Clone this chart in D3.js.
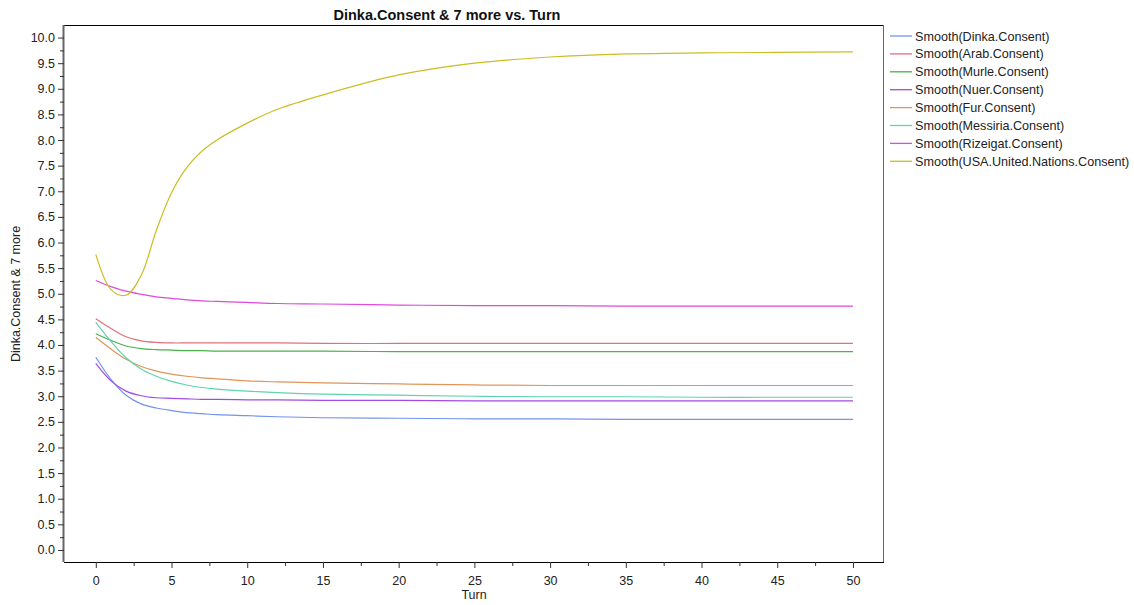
<!DOCTYPE html>
<html>
<head>
<meta charset="utf-8">
<script src="https://cdn.jsdelivr.net/npm/d3@7"></script>
<style>
  body { margin: 0; background: #fff; }
  svg { font-family: "Liberation Sans", Arial, sans-serif; }
</style>
</head>
<body>
<svg id="chart" width="1134" height="605"></svg>
<script>
// sampled turns
const turns = [0, 1, 2, 3, 4, 5, 6, 7, 8, 10, 12, 15, 20, 25, 30, 35, 40, 45, 50];

// values at each turn
const dinka    = [3.76, 3.33, 3.02, 2.85, 2.77, 2.72, 2.68, 2.66, 2.64, 2.62, 2.60, 2.58, 2.57, 2.56, 2.56, 2.55, 2.55, 2.55, 2.55];
const arab     = [4.51, 4.32, 4.16, 4.08, 4.05, 4.04, 4.04, 4.04, 4.04, 4.04, 4.04, 4.03, 4.03, 4.03, 4.03, 4.03, 4.03, 4.03, 4.03];
const murle    = [4.22, 4.09, 3.98, 3.93, 3.91, 3.90, 3.89, 3.89, 3.88, 3.88, 3.88, 3.88, 3.87, 3.87, 3.87, 3.87, 3.87, 3.87, 3.87];
const nuer     = [3.64, 3.30, 3.10, 3.01, 2.97, 2.96, 2.95, 2.94, 2.94, 2.93, 2.93, 2.92, 2.92, 2.91, 2.91, 2.91, 2.91, 2.91, 2.91];
const fur      = [4.15, 3.92, 3.72, 3.58, 3.49, 3.43, 3.39, 3.36, 3.34, 3.30, 3.28, 3.26, 3.24, 3.22, 3.21, 3.21, 3.21, 3.21, 3.21];
const messiria = [4.44, 4.07, 3.75, 3.53, 3.39, 3.29, 3.22, 3.17, 3.14, 3.10, 3.07, 3.04, 3.02, 3.00, 2.99, 2.99, 2.98, 2.98, 2.98];
const rizeigat = [5.26, 5.14, 5.05, 4.99, 4.94, 4.91, 4.88, 4.86, 4.85, 4.83, 4.81, 4.80, 4.78, 4.77, 4.77, 4.76, 4.76, 4.76, 4.76];
const usaUN    = [5.77, 5.08, 4.97, 5.36, 6.24, 6.97, 7.46, 7.78, 8.00, 8.33, 8.60, 8.88, 9.27, 9.50, 9.62, 9.68, 9.70, 9.71, 9.72];

const seriesNames = [
  "Smooth(Dinka.Consent)", "Smooth(Arab.Consent)", "Smooth(Murle.Consent)", "Smooth(Nuer.Consent)",
  "Smooth(Fur.Consent)", "Smooth(Messiria.Consent)", "Smooth(Rizeigat.Consent)", "Smooth(USA.United.Nations.Consent)"
];
const seriesValues = [dinka, arab, murle, nuer, fur, messiria, rizeigat, usaUN];
const colors = ["#7394ee", "#e2707c", "#4cb04c", "#a24be0", "#e0955a", "#5fd4ae", "#de4ade", "#cbbd22"];

const xTicks = d3.range(0, 51, 5);
const yTicks = d3.range(0, 10.01, 0.5);

const svg = d3.select("#chart");
const plotL = 64, plotR = 884, plotT = 25, plotB = 562;

const x = d3.scaleLinear().domain([-2.1, 52.05]).range([plotL, plotR]);
const y = d3.scaleLinear().domain([-0.235, 10.245]).range([plotB, plotT]);

// frame
svg.append("line").attr("x1", plotL).attr("x2", plotR).attr("y1", plotT + 0.5).attr("y2", plotT + 0.5).attr("stroke", "#000");
svg.append("line").attr("x1", plotR - 0.5).attr("x2", plotR - 0.5).attr("y1", plotT).attr("y2", plotB).attr("stroke", "#666");

// x axis
const xAxis = svg.append("g")
  .attr("transform", `translate(0,${plotB})`)
  .call(d3.axisBottom(x).tickValues(xTicks).tickSize(6).tickFormat(d3.format("d")));
svg.append("g")
  .attr("transform", `translate(0,${plotB})`)
  .call(d3.axisBottom(x).tickValues(d3.range(2.5, 50, 5)).tickSize(4).tickFormat(""))
  .select(".domain").remove();

// y axis
const yAxis = svg.append("g")
  .attr("transform", `translate(${plotL},0)`)
  .call(d3.axisLeft(y).tickValues(yTicks).tickSize(6).tickFormat(d3.format(".1f")));
svg.append("g")
  .attr("transform", `translate(${plotL},0)`)
  .call(d3.axisLeft(y).tickValues(d3.range(0.25, 10.25, 0.5)).tickSize(4).tickFormat(""))
  .select(".domain").remove();

svg.selectAll(".tick text").attr("font-size", 12.5).attr("fill", "#222")
  .attr("font-family", "Liberation Sans, Arial, sans-serif");
xAxis.selectAll(".tick text").attr("dy", "1.1em");
xAxis.select(".domain").attr("d", `M${plotL},0.5H${plotR}`).attr("stroke", "#000");
yAxis.select(".domain").attr("d", `M-0.5,${plotT}V${plotB}`).attr("stroke", "#666").attr("stroke-width", 2);
svg.selectAll(".tick line").attr("stroke", "#333");

// lines
const line = d3.line()
  .x((d, i) => x(turns[i]))
  .y(d => y(d))
  .curve(d3.curveCatmullRom.alpha(0.5));

svg.append("g").selectAll("path")
  .data(seriesValues)
  .join("path")
  .attr("fill", "none")
  .attr("stroke", (d, i) => colors[i])
  .attr("stroke-width", 1.2)
  .attr("d", line);

// title and axis labels
svg.append("text").attr("x", 447).attr("y", 20).attr("text-anchor", "middle")
  .attr("font-size", 14.5).attr("font-weight", "bold").attr("fill", "#111")
  .text("Dinka.Consent & 7 more vs. Turn");
svg.append("text").attr("x", 474).attr("y", 599).attr("text-anchor", "middle")
  .attr("font-size", 12.5).attr("fill", "#222").text("Turn");
svg.append("text").attr("transform", "translate(20,294) rotate(-90)").attr("text-anchor", "middle")
  .attr("font-size", 12.5).attr("fill", "#222").text("Dinka.Consent & 7 more");

// legend
const legend = svg.append("g").attr("transform", "translate(890,36)");
const item = legend.selectAll("g").data(seriesNames).join("g")
  .attr("transform", (d, i) => `translate(0,${i * 17.9})`);
item.append("line").attr("x1", 0).attr("x2", 22).attr("y1", 0).attr("y2", 0)
  .attr("stroke", (d, i) => colors[i]).attr("stroke-width", 1.3);
item.append("text").attr("x", 25).attr("y", 4.5).attr("font-size", 12.6).attr("fill", "#222").text(d => d);
</script>
</body>
</html>
